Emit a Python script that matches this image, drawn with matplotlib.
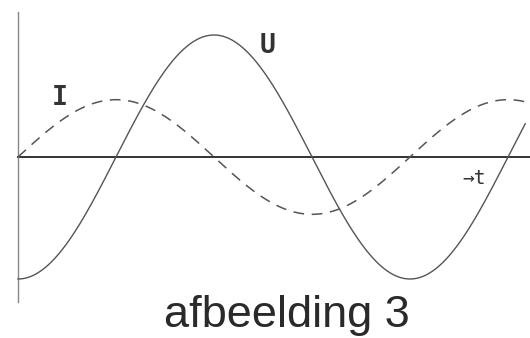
"""
 afbeelding 3: voltage U and current I against time
"""
import matplotlib.pyplot as plt
import numpy as np

# Curve parameters
#
period = 2*np.pi          # one period of both signals
u_amp = 1.0               # amplitude of U (solid)
i_amp = 0.47              # amplitude of I (dashed)
u_phase = -np.pi/2        # U starts at its minimum
i_phase = 0.0             # I starts at zero, rising
t_end = 8.13              # curves run to the right edge

labels = ['U', 'I', '\u2192t']
title = 'afbeelding 3'

W, H = 530, 338
x0, y0 = 18, 157          # origin in pixels
px_per_t = 392/period
px_per_v = 122

t = np.linspace(0, t_end, 600)
u = u_amp*np.sin(2*np.pi*t/period + u_phase)
i = i_amp*np.sin(2*np.pi*t/period + i_phase)

fig = plt.figure(figsize=[W/100, H/100], dpi=100)
ax = fig.add_axes([0, 0, 1, 1])
ax.set_xlim(-x0/px_per_t, (W-x0)/px_per_t)
ax.set_ylim(-(H-y0)/px_per_v, y0/px_per_v)
ax.axis('off')

# axes
ax.plot([0, (W-x0)/px_per_t], [0, 0], color='#333333', lw=1.4)
ax.plot([0, 0], [-(302-y0)/px_per_v, (y0-12)/px_per_v],
        color='#888888', lw=1.0)

ax.plot(t, u, color='#555555', lw=1.0)
ax.plot(t, i, color='#555555', lw=1.1, dashes=(7, 5))

fig.text(268/W, 1-46/H, labels[0], ha='center', va='center',
         fontsize=19, color='#333333', family='DejaVu Sans Mono',
         weight='bold')
fig.text(60/W, 1-98/H, labels[1], ha='center', va='center',
         fontsize=19, color='#333333', family='DejaVu Sans Mono',
         weight='bold')
fig.text(474/W, 1-178/H, labels[2], ha='center', va='center',
         fontsize=14, color='#333333', family='DejaVu Sans Mono')

fig.text(287/W, 1-327/H, title, ha='center', va='baseline',
         fontsize=32.5, color='#2a2a2a', family='Liberation Sans')

plt.savefig('out.png', dpi=100)
